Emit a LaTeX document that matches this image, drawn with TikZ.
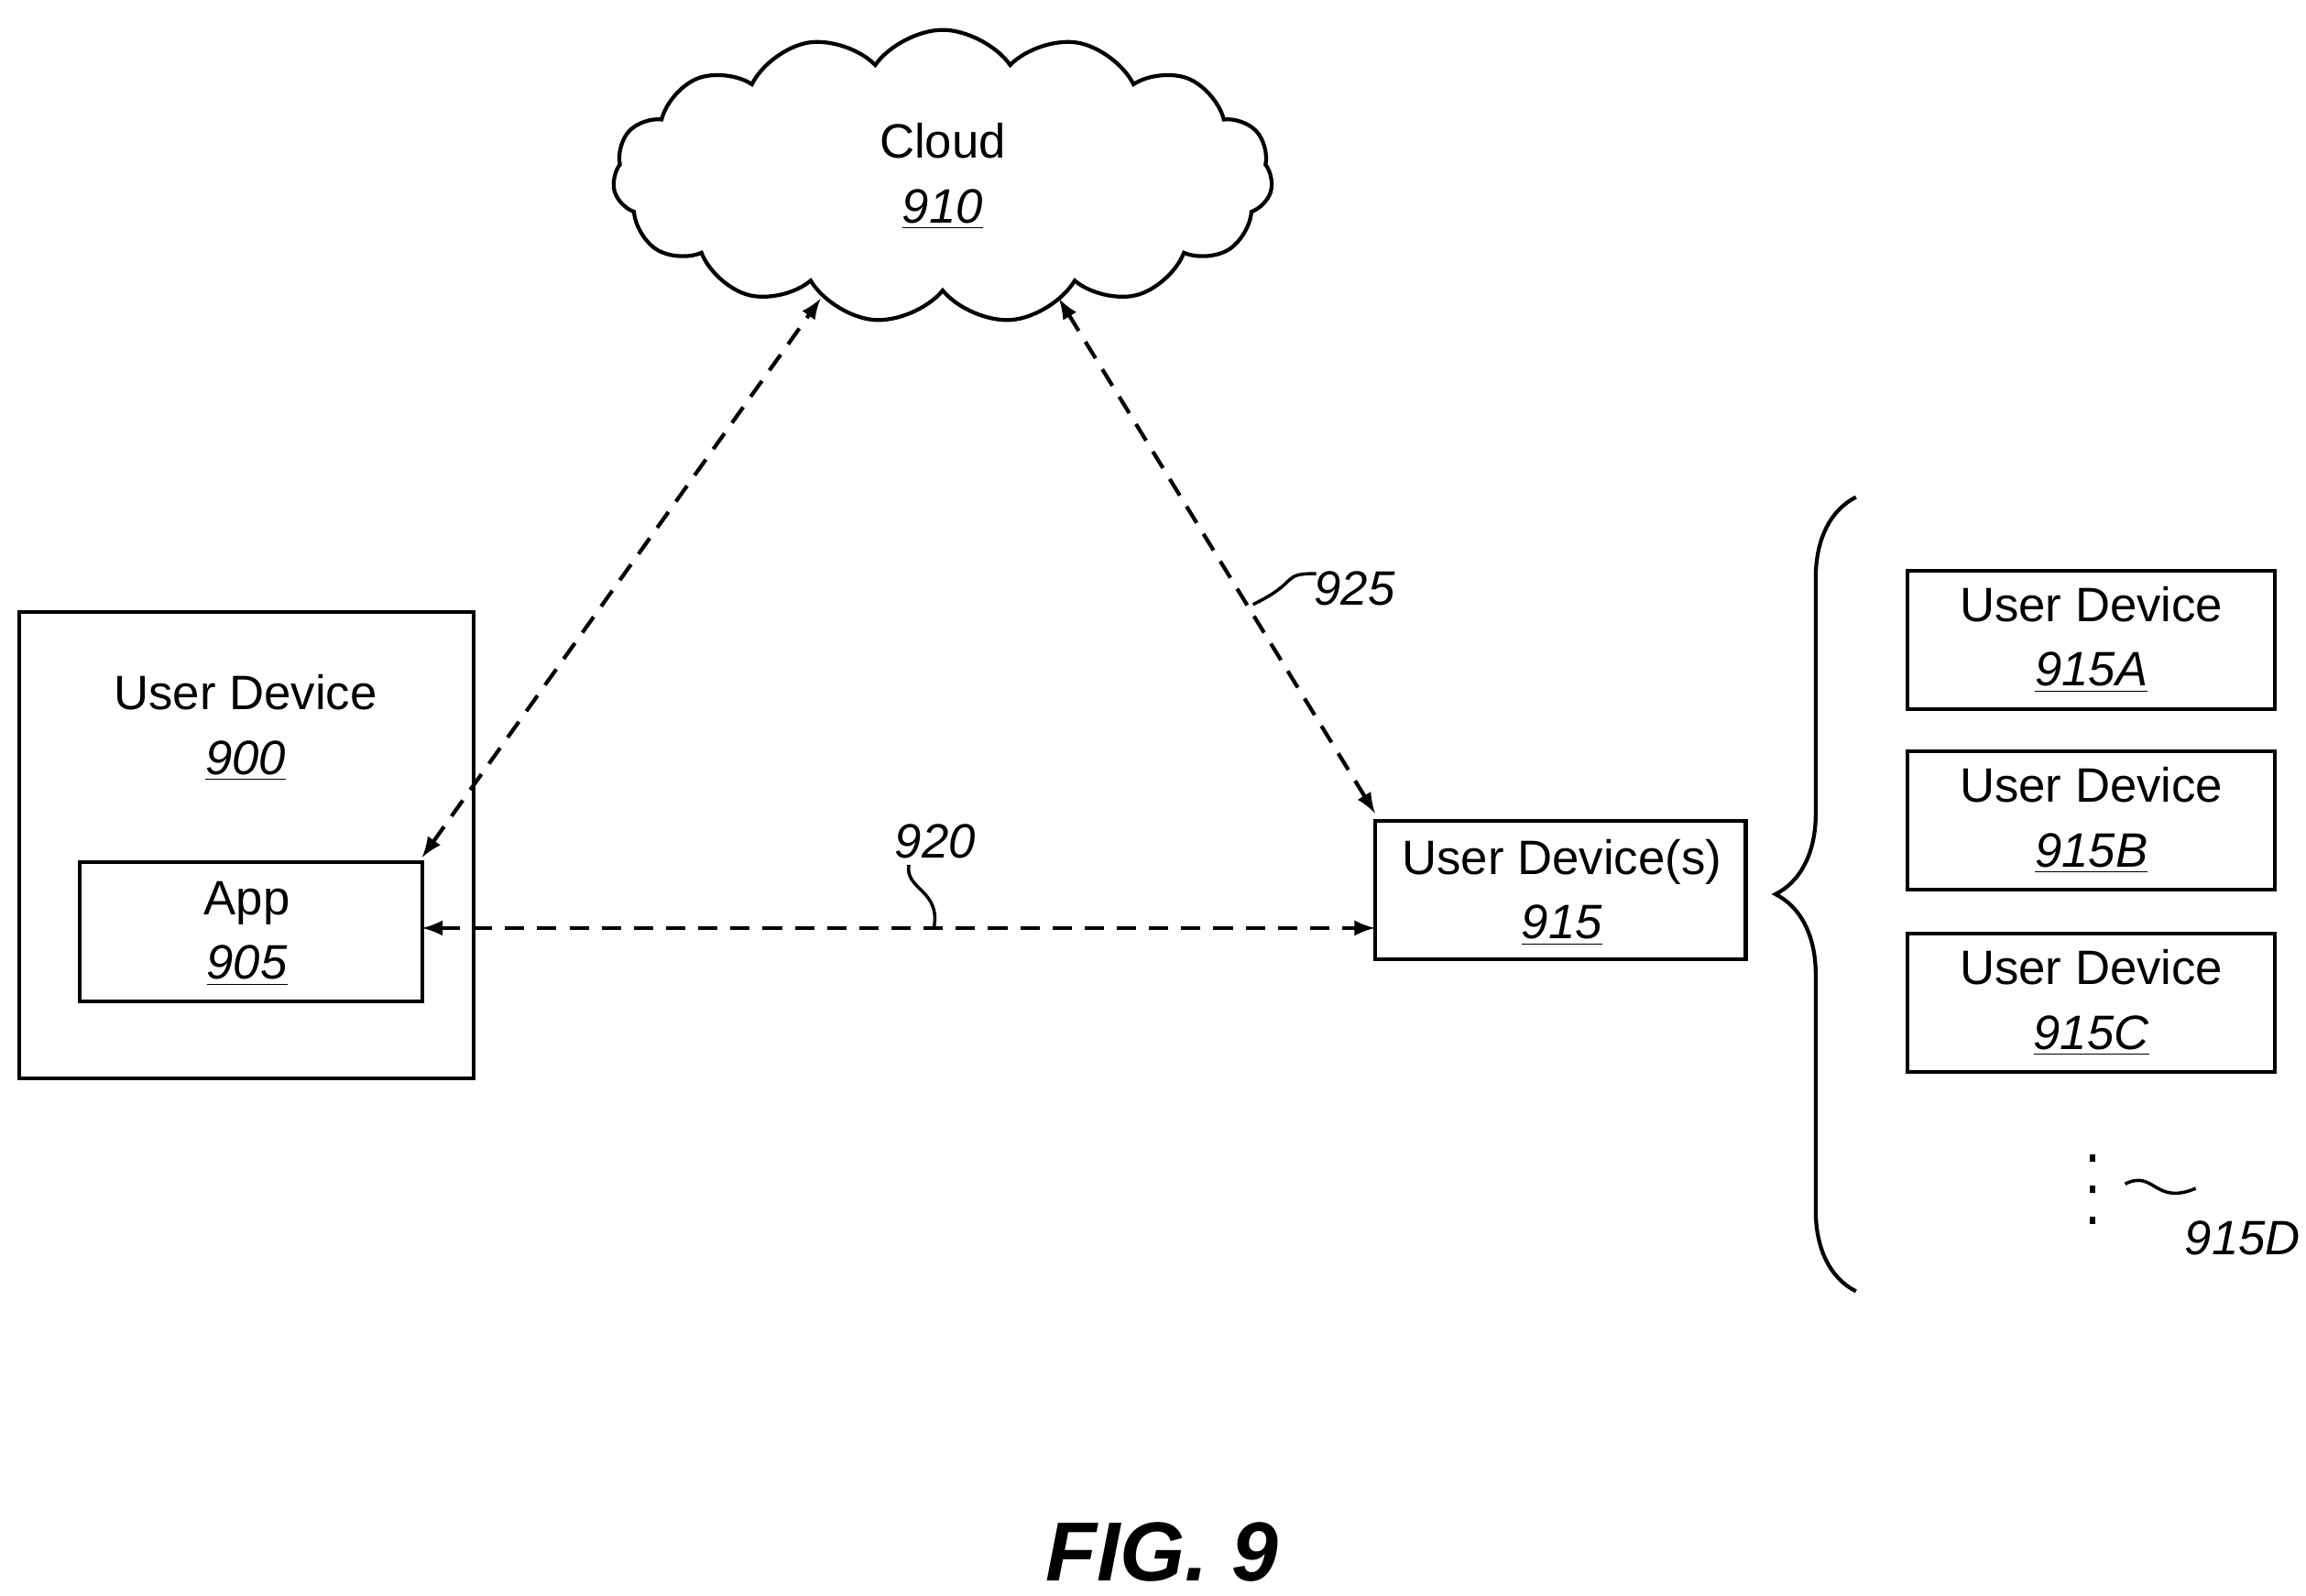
\documentclass[tikz,border=0pt]{standalone}
\usepackage{fontspec}
\setmainfont{Liberation Sans}
\usetikzlibrary{shapes.symbols,decorations.pathreplacing}
\newcommand{\refnum}[1]{\underline{\textit{#1}}}
\tikzset{
  box/.style={draw,line width=1.2pt},
  lbl/.style={font=\fontsize{15}{18}\selectfont,align=center},
  link/.style={dashed,line width=1.2pt,dash pattern=on 6pt off 4pt,latex-latex},
  squig/.style={line width=1pt}
}
\begin{document}
\begin{tikzpicture}[x=0.01605cm,y=-0.01605cm]
\useasboundingbox (0,0) rectangle (1568,1085);
% boxes
\draw[box] (13,416) rectangle (322,733);
\node[lbl] (ud900) at (167,495) {User Device\\[2pt]\refnum{900}};
\draw[box] (54,586) rectangle (287,681);
\node[lbl] (app) at (168,635) {App\\[2pt]\refnum{905}};
\coordinate (appNE) at (287,583);
\coordinate (appE) at (287,631);
\draw[box] (935,558) rectangle (1187,652);
\node[lbl] (ud915) at (1062,607) {User Device(s)\\[2pt]\refnum{915}};
\coordinate (udNW) at (935,553);
\coordinate (udW) at (935,631);
\foreach \y/\s in {388/A,511/B,635/C}{
  \draw[box] (1297,\y) rectangle (1547,\y+94);
  \node[lbl] at (1422,\y+47) {User Device\\[2pt]\refnum{915\s}};
}
% cloud
\node[cloud,draw,line width=1.2pt,cloud puffs=15,cloud puff arc=110,aspect=1.2,minimum width=7.2cm,minimum height=3.2cm,lbl] (cloud) at (641,120) {Cloud\\[2pt]\refnum{910}};
\coordinate (cloudL) at (558,203);
\coordinate (cloudR) at (720,203);
% links
\draw[link] (appNE) -- (cloudL);
\draw[link] (cloudR) -- (udNW);
\draw[link] (appE) -- (udW);
% reference labels
\draw[squig] (635,631) .. controls (640,605) and (615,605) .. (618,588);
\node[lbl,font=\fontsize{15}{18}\selectfont\itshape] (n920) at (636,572) {920};
\draw[squig] (852,411) .. controls (885,395) and (870,390) .. (895,390);
\node[lbl,font=\fontsize{15}{18}\selectfont\itshape] (n925) at (921,400) {925};
% brace
\draw[line width=1.2pt,decorate,decoration={brace,amplitude=25pt,aspect=0.5}] (1262,878) -- (1262,338);
\foreach \y in {785,806,827} \fill (1421,\y) rectangle (1425,\y+5);
\draw[squig] (1445,805) .. controls (1465,795) and (1465,820) .. (1493,808);
\node[lbl,font=\fontsize{15}{18}\selectfont\itshape] (n915d) at (1525,842) {915D};
\node[font=\fontsize{26}{30}\selectfont\bfseries\itshape] (fig) at (790,1055) {FIG. 9};
\end{tikzpicture}
\end{document}
